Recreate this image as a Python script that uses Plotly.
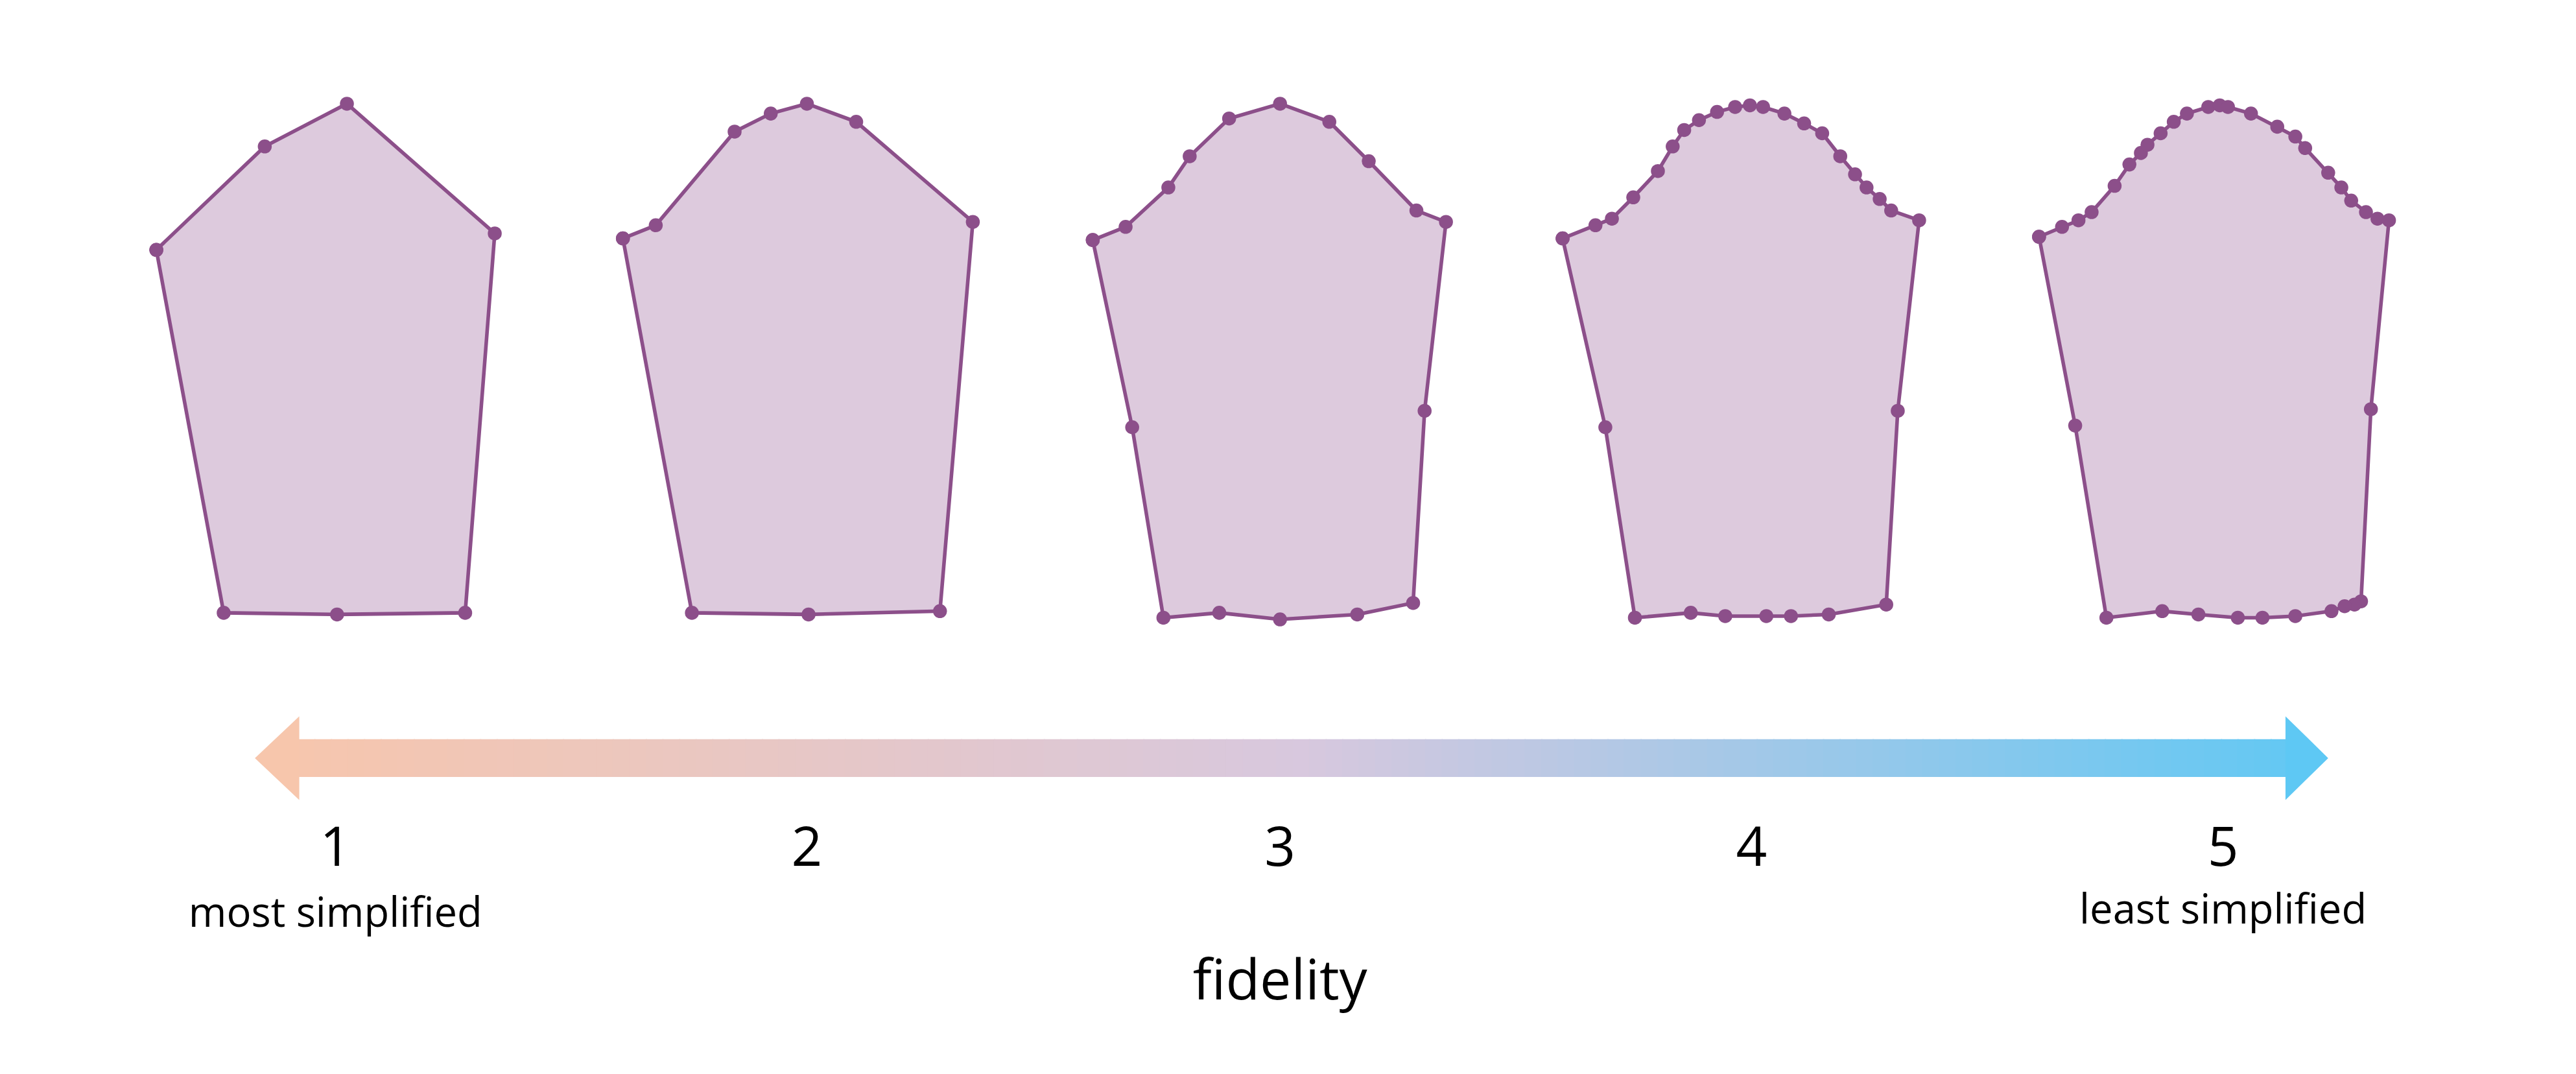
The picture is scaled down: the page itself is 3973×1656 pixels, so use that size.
import plotly.graph_objects as go

# Outline points of each simplification level (in picture units, 1568 x 654)
level_x = [
    [92, 158, 208, 298, 280, 202, 133],
    [376, 396, 444, 466, 488, 518, 589, 569, 489, 418],
    [662, 682, 708, 721, 745, 776, 806, 830, 859, 877, 864, 857, 823, 776, 739, 705, 686],
    [948, 968, 978, 991, 1006, 1015, 1022, 1031, 1042, 1053, 1062, 1070, 1083, 1095, 1106,
     1117, 1126, 1133, 1141, 1148, 1165, 1152, 1145, 1110, 1087, 1072, 1047, 1026, 992, 974],
    [1238, 1252, 1262, 1270, 1284, 1293, 1300, 1304, 1312, 1320, 1328, 1341, 1348, 1353, 1367,
     1383, 1394, 1400, 1414, 1422, 1428, 1437, 1444, 1451, 1440, 1434, 1430, 1424, 1416, 1394,
     1374, 1359, 1335, 1313, 1279, 1260],
]
level_y = [
    [149, 86, 60, 139, 370, 371, 370],
    [142, 134, 77, 66, 60, 71, 132, 369, 371, 370],
    [143, 135, 111, 92, 69, 60, 71, 95, 125, 132, 247, 364, 371, 374, 370, 373, 257],
    [142, 134, 130, 117, 101, 86, 76, 70, 65, 62, 61, 62, 66, 72, 78,
     92, 103, 111, 118, 125, 131, 247, 365, 371, 372, 372, 372, 370, 373, 257],
    [141, 135, 131, 126, 110, 97, 90, 85, 78, 71, 66, 62, 61, 62, 66,
     74, 80, 87, 102, 111, 119, 126, 130, 131, 246, 363, 365, 366, 369, 372,
     373, 373, 371, 369, 373, 256],
]
level_labels = ["1", "2", "3", "4", "5"]
level_label_x = [201, 488, 776, 1063, 1350]
end_labels = ["most simplified", "least simplified"]
axis_title = "fidelity"

W, H = 1568, 654
S = 3973 / W
line_col = "#8c4f8a"
fill_col = "rgba(221,202,221,1)"

fig = go.Figure()
for xs, ys in zip(level_x, level_y):
    fig.add_trace(go.Scatter(
        x=xs + xs[:1], y=ys + ys[:1], mode="lines+markers", fill="toself",
        fillcolor=fill_col, line=dict(color=line_col, width=2.2 * S),
        marker=dict(color=line_col, size=8.5 * S), hoverinfo="skip"))

# gradient arrow
def mix(t):
    stops = [(0, (247, 198, 172)), (0.5, (216, 200, 222)), (1, (94, 200, 244))]
    for (t0, c0), (t1, c1) in zip(stops[:-1], stops[1:]):
        if t <= t1:
            f = (t - t0) / (t1 - t0)
            return "rgb(%d,%d,%d)" % tuple(round(a + (b - a) * f) for a, b in zip(c0, c1))

x0, x1 = 178, 1389
n = 120
shapes = []
for i in range(n):
    a = x0 + (x1 - x0) * i / n
    b = x0 + (x1 - x0) * (i + 1) / n + 0.8
    shapes.append(dict(type="rect", xref="x", yref="y", x0=a, x1=b, y0=447, y1=470,
                       fillcolor=mix((a - 152) / (1414 - 152)), line_width=0, layer="below"))
shapes.append(dict(type="path", xref="x", yref="y", path="M 179 433 L 152 458.5 L 179 484 Z",
                   fillcolor=mix(0), line_width=0))
shapes.append(dict(type="path", xref="x", yref="y", path="M 1388 433 L 1414 458.5 L 1388 484 Z",
                   fillcolor=mix(1), line_width=0))

font = "Open Sans"
fig.add_trace(go.Scatter(x=level_label_x, y=[516] * 5, mode="text", text=level_labels,
                         textfont=dict(size=33 * S, color="black", family=font), hoverinfo="skip"))
fig.add_trace(go.Scatter(x=[201, 1350], y=[555, 553], mode="text", text=end_labels,
                         textfont=dict(size=25 * S, color="black", family=font), hoverinfo="skip"))
fig.add_trace(go.Scatter(x=[776], y=[597], mode="text", text=[axis_title],
                         textfont=dict(size=34 * S, color="black", family=font), hoverinfo="skip"))

fig.update_layout(
    width=3973, height=1656, margin=dict(l=0, r=0, t=0, b=0),
    paper_bgcolor="white", plot_bgcolor="white", showlegend=False, shapes=shapes,
    xaxis=dict(range=[0, W], visible=False, fixedrange=True),
    yaxis=dict(range=[H, 0], visible=False, fixedrange=True),
)
fig.write_html("out.html")
